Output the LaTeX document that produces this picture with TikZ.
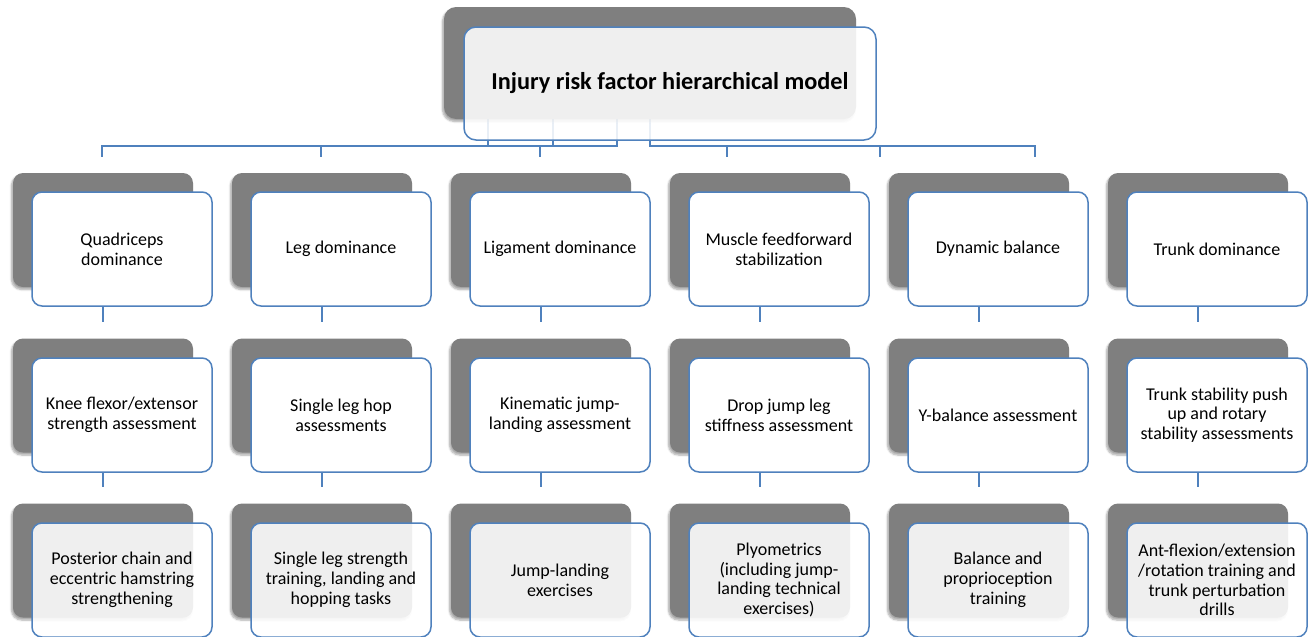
\documentclass[tikz,border=0pt]{standalone}
\usepackage{fontspec}
\setmainfont{Carlito}
\usetikzlibrary{calc,shadows.blur}
\definecolor{boxblue}{RGB}{79,129,189}
\definecolor{shgray}{RGB}{127,127,127}
\tikzset{
  shadowbox/.style={fill=shgray, rounded corners=10pt, minimum width=180pt, minimum height=114pt,
    inner sep=0pt, blur shadow={shadow xshift=-1.5pt, shadow yshift=-2.5pt, shadow blur steps=6, shadow opacity=35}},
  mainbox/.style={draw=boxblue, line width=1.5pt, fill=white, rounded corners=10pt,
    minimum width=180pt, minimum height=114pt, inner sep=0pt, align=center, font=\fontsize{18}{19.8}\selectfont},
  glassbox/.style={mainbox, fill opacity=0.88, text opacity=1},
  link/.style={draw=boxblue, line width=1.6pt},
  titleshadow/.style={shadowbox, minimum width=412pt, minimum height=112pt, rounded corners=12pt},
  titlebox/.style={glassbox, minimum width=412pt, minimum height=113pt, rounded corners=12pt,
    font=\fontsize{24.3}{27}\selectfont\bfseries},
}
\begin{document}
\begin{tikzpicture}[x=1pt,y=-1pt]
\useasboundingbox (0,0) rectangle (1315,637);
% --- connectors from the title (drawn first, seen faintly through the title box)
\coordinate (tA) at (488,60);
\coordinate (tB) at (553,60);
\coordinate (tC) at (617,60);
\coordinate (tD) at (650,60);
\coordinate (hA) at (488,146);
\coordinate (hB) at (553,146);
\coordinate (hC) at (617,146);
\coordinate (hD) at (650,146);
\coordinate (hL) at (102,146);
\coordinate (hR) at (1035,146);
\coordinate (d1) at (102,157);
\coordinate (d2) at (321,157);
\coordinate (d3) at (540,157);
\coordinate (d4) at (727,157);
\coordinate (d5) at (880,157);
\coordinate (d6) at (1035,157);
\draw[link] (tC) -- (hC) -- (hL) -- (d1);
\draw[link] (tA) -- (hA);
\draw[link] (tB) -- (hB);
\draw[link] (tD) -- (hD) -- (hR) -- (d6);
\draw[link] (d2 |- hL) -- (d2);
\draw[link] (d3 |- hL) -- (d3);
\draw[link] (d4 |- hL) -- (d4);
\draw[link] (d5 |- hL) -- (d5);
% --- title
\node[titleshadow] (titlesh) at (650,63) {};
\node[titlebox] (title) at (670,83.5) {Injury risk factor hierarchical model};
% --- rows
\foreach \c/\x/\ta/\tb/\tc in {
  1/103/{Quadriceps\\dominance}/{Knee flexor/extensor\\strength assessment}/{Posterior chain and\\eccentric hamstring\\strengthening},
  2/322/{Leg dominance}/{Single leg hop\\assessments}/{Single leg strength\\training, landing and\\hopping tasks},
  3/541/{Ligament dominance}/{Kinematic jump-\\landing assessment}/{Jump-landing\\exercises},
  4/760/{Muscle feedforward\\stabilization}/{Drop jump leg\\stiffness assessment}/{Plyometrics\\(including jump-\\landing technical\\exercises)},
  5/979/{Dynamic balance}/{Y-balance assessment}/{Balance and\\proprioception\\training},
  6/1198/{Trunk dominance}/{Trunk stability push\\up and rotary\\stability assessments}/{Ant-flexion/extension\\/rotation training and\\trunk perturbation\\drills}}
{
  \node[shadowbox] (sa\c) at (\x,230) {};
  \node[mainbox] (ba\c) at (\x+19,249) {\ta};
  \node[shadowbox] (sb\c) at (\x,395.5) {};
  \node[mainbox] (bb\c) at (\x+19,415) {\tb};
  \node[shadowbox] (sc\c) at (\x,560.5) {};
  \node[glassbox] (bc\c) at (\x+19,580) {\tc};
  \coordinate (ea\c) at ($(sb\c.north)+(0,-16)$);
  \coordinate (eb\c) at ($(sc\c.north)+(0,-16)$);
  \draw[link] (ba\c.south -| sa\c.south) -- (ea\c);
  \draw[link] (bb\c.south -| sb\c.south) -- (eb\c);
}
\end{tikzpicture}
\end{document}
